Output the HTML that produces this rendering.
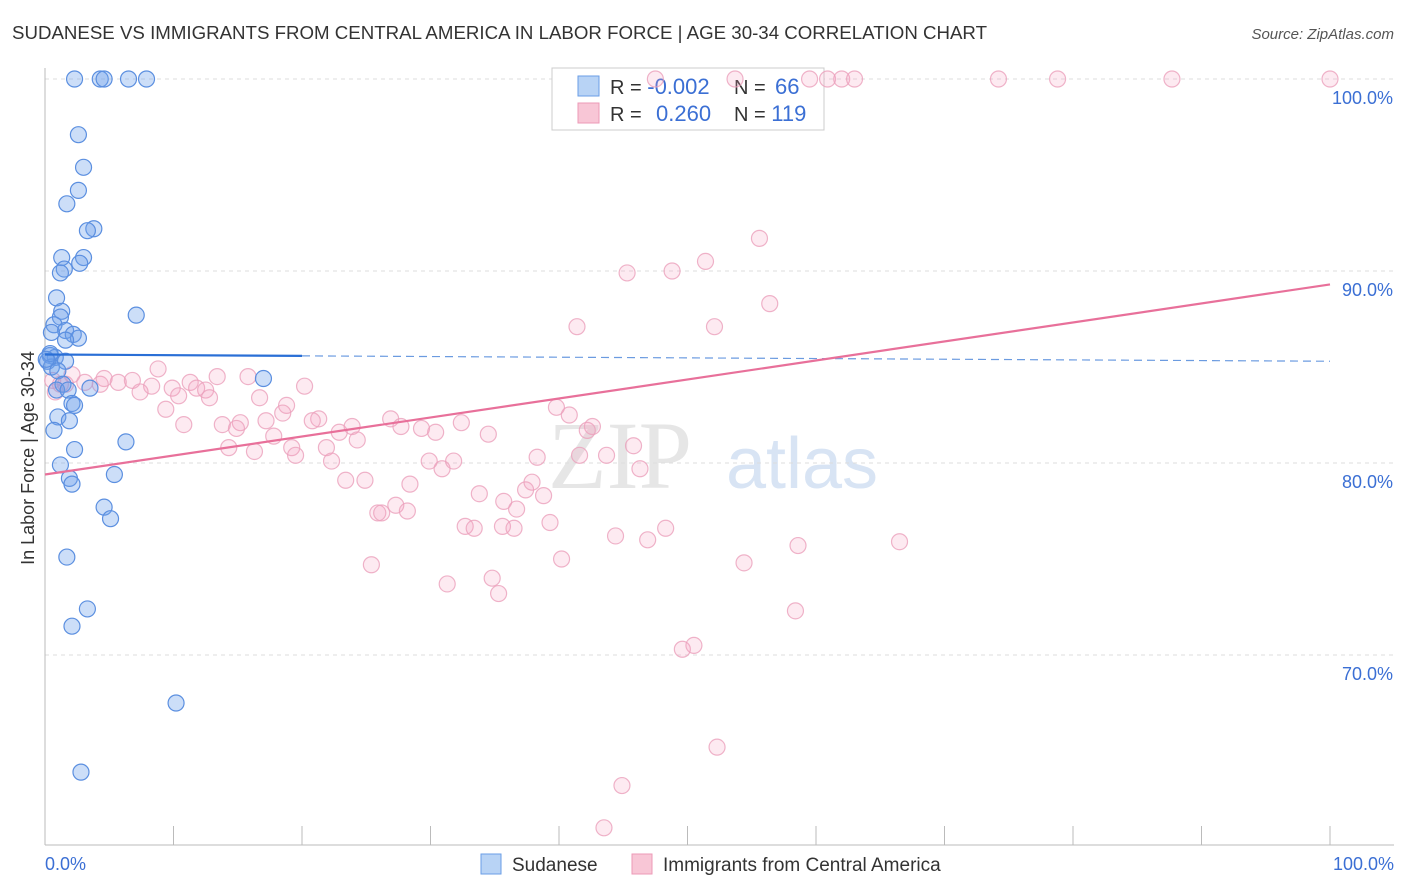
<!DOCTYPE html>
<html><head><meta charset="utf-8"><style>
body{margin:0;background:#fff;font-family:"Liberation Sans",sans-serif;}
svg{display:block}
</style></head><body>
<svg id="chart" width="1406" height="892" xmlns="http://www.w3.org/2000/svg">
<text x="12" y="39" font-size="18" fill="#333" textLength="975" lengthAdjust="spacingAndGlyphs">SUDANESE VS IMMIGRANTS FROM CENTRAL AMERICA IN LABOR FORCE | AGE 30-34 CORRELATION CHART</text>
<text x="1394" y="39" font-size="15" fill="#555" font-style="italic" text-anchor="end">Source: ZipAtlas.com</text>
<text x="34" y="458" font-size="18" fill="#333" text-anchor="middle" transform="rotate(-90 34 458)">In Labor Force | Age 30-34</text>
<text x="620" y="488" font-size="96" fill="#e6e6e6" font-family="Liberation Serif,serif" text-anchor="middle">ZIP</text>
<text x="802" y="488" font-size="72" fill="#d8e4f4" text-anchor="middle">atlas</text>
<g id="grid"></g>
<g>
<rect x="552" y="68" width="272" height="62" fill="#fff" stroke="#ccc"/>
<rect x="578" y="76" width="21" height="20" fill="#b8d3f5" stroke="#6a9ee6"/>
<rect x="578" y="103" width="21" height="20" fill="#f8c6d6" stroke="#ec9ab7"/>
<text x="610" y="94" font-size="20" fill="#333">R = <tspan fill="#3b6fd4" font-size="22">-0.002</tspan></text>
<text x="734" y="94" font-size="20" fill="#333">N = <tspan fill="#3b6fd4" font-size="22" x="775">66</tspan></text>
<text x="610" y="121" font-size="20" fill="#333">R = <tspan fill="#3b6fd4" x="656" font-size="22">0.260</tspan></text>
<text x="734" y="121" font-size="20" fill="#333">N = <tspan fill="#3b6fd4" font-size="22">119</tspan></text>
</g>
<g id="marks"></g><g id="lines"></g>
<g>
<rect x="481" y="854" width="20" height="20" fill="#b8d3f5" stroke="#6a9ee6"/>
<text x="512" y="871" font-size="19" fill="#333">Sudanese</text>
<rect x="632" y="854" width="20" height="20" fill="#f8c6d6" stroke="#ec9ab7"/>
<text x="663" y="871" font-size="19" fill="#333">Immigrants from Central America</text>
</g>
</svg>
<script>
const yTicks=[100,90,80,70];
const yTickLabels=["100.0%","90.0%","80.0%","70.0%"];
const xTicks=[0,10,20,30,40,50,60,70,80,90,100];
const xTickLabels=["0.0%","100.0%"];
const blueX=[2.3,4.3,4.6,6.5,7.9,2.6,3.0,2.6,1.7,3.8,3.3,1.3,3.0,2.7,1.5,1.2,0.9,1.3,1.2,7.1,0.7,1.6,0.5,2.2,2.6,1.6,0.4,0.8,0.2,1.6,0.5,1.0,17.0,1.4,3.5,0.9,1.8,2.1,2.3,1.0,1.9,0.7,6.3,2.3,1.2,5.4,1.9,2.1,4.6,5.1,1.7,3.3,2.1,10.2,2.8,0.4,0.1];
const blueY=[100,100,100,100,100,97.1,95.4,94.2,93.5,92.2,92.1,90.7,90.7,90.4,90.1,89.9,88.6,87.9,87.6,87.7,87.2,86.9,86.8,86.7,86.5,86.4,85.6,85.5,85.3,85.3,85.0,84.8,84.4,84.1,83.9,83.8,83.8,83.1,83.0,82.4,82.2,81.7,81.1,80.7,79.9,79.4,79.2,78.9,77.7,77.1,75.1,72.4,71.5,67.5,63.9,85.7,85.4];
const pinkX=[47.5,53.7,59.5,60.9,62.0,63.0,74.2,78.8,87.7,100,55.6,51.4,45.3,48.8,56.4,41.4,52.1,8.8,0.6,2.1,3.1,4.3,5.7,6.8,8.3,4.6,11.3,11.8,13.4,15.8,20.2,7.4,9.9,12.5,12.8,16.7,10.4,9.4,18.8,18.5,10.8,13.8,15.2,14.9,17.2,21.3,20.8,17.8,22.9,23.9,24.3,26.9,27.7,29.3,30.4,32.4,34.5,14.3,16.3,19.2,19.5,21.9,22.3,23.4,24.9,29.9,30.9,31.8,28.4,25.9,26.2,27.3,28.2,33.8,35.7,36.7,37.4,37.9,38.8,38.3,39.8,40.8,41.6,42.6,42.2,43.7,45.8,46.3,32.7,33.4,35.6,36.5,39.3,44.4,46.9,48.3,25.4,31.3,34.8,35.3,40.2,54.4,58.6,66.5,58.4,49.6,50.5,52.3,44.9,43.5,0.8,1.2,1.6];
const pinkY=[100,100,100,100,100,100,100,100,100,100,91.7,90.5,89.9,90.0,88.3,87.1,87.1,84.9,84.3,84.6,84.2,84.1,84.2,84.3,84.0,84.4,84.2,83.9,84.5,84.5,84.0,83.7,83.9,83.8,83.4,83.4,83.5,82.8,83.0,82.6,82.0,82.0,82.1,81.8,82.2,82.3,82.2,81.4,81.6,81.9,81.2,82.3,81.9,81.8,81.6,82.1,81.5,80.8,80.6,80.8,80.4,80.8,80.1,79.1,79.1,80.1,79.7,80.1,78.9,77.4,77.4,77.8,77.5,78.4,78.0,77.6,78.6,79.0,78.3,80.3,82.9,82.5,80.4,81.9,81.7,80.4,80.9,79.7,76.7,76.6,76.7,76.6,76.9,76.2,76.0,76.6,74.7,73.7,74.0,73.2,75.0,74.8,75.7,75.9,72.3,70.3,70.5,65.2,63.2,61.0,83.7,84.1,84.1];
const blueTrend=[85.65,85.3];
const pinkTrend=[79.4,89.3];
const NS="http://www.w3.org/2000/svg";
const X=v=>45+v*12.85;
const Y=v=>79+(100-v)*19.2;
function mk(tag,attrs,parent){const e=document.createElementNS(NS,tag);for(const k in attrs)e.setAttribute(k,attrs[k]);parent.appendChild(e);return e;}
const grid=document.getElementById('grid'),marks=document.getElementById('marks'),lines=document.getElementById('lines');
yTicks.forEach((t,i)=>{
 const l=mk('line',{x1:45,x2:1394,y1:Y(t),y2:Y(t),stroke:'#ddd','stroke-dasharray':'4,4'},grid);
 
 
 const tx=mk('text',{x:1393,y:Y(t)+25,'font-size':18,fill:'#3b6fd4','text-anchor':'end'},grid);
 tx.textContent=yTickLabels[i];
 
 
});
const ax=mk('line',{x1:45,x2:1394,y1:845,y2:845,stroke:'#bbb'},grid);


const ay=mk('line',{x1:45,x2:45,y1:68,y2:845,stroke:'#bbb'},grid);


xTicks.forEach(t=>{
 const l=mk('line',{x1:X(t),x2:X(t),y1:826,y2:845,stroke:'#bbb'},grid);
 
 
});
[[0,'start',45],[100,'end',1394]].forEach((a,i)=>{
 const tx=mk('text',{x:a[2],y:870,'font-size':18,fill:'#3b6fd4','text-anchor':a[1]},grid);
 tx.textContent=xTickLabels[i];
 
 
});
pinkX.forEach((v,i)=>{
 const c=mk('circle',{cx:X(v),cy:Y(pinkY[i]),r:8,fill:'rgba(244,160,190,0.22)',stroke:'#eba0bb','stroke-width':1.2,'stroke-opacity':0.8},marks);
 
 
});
blueX.forEach((v,i)=>{
 const c=mk('circle',{cx:X(v),cy:Y(blueY[i]),r:8,fill:'rgba(110,160,235,0.35)',stroke:'#5b8fe0','stroke-width':1.2},marks);
 
 
});
const bAt=p=>blueTrend[0]+(blueTrend[1]-blueTrend[0])*p/100;
const b1=mk('line',{x1:X(0),y1:Y(bAt(0)),x2:X(20),y2:Y(bAt(20)),stroke:'#2a6fd6','stroke-width':2.2},lines);


const b2=mk('line',{x1:X(20),y1:Y(bAt(20)),x2:X(100),y2:Y(bAt(100)),stroke:'#6b9be0','stroke-width':1.2,'stroke-dasharray':'8,5'},lines);


const p1=mk('line',{x1:X(0),y1:Y(pinkTrend[0]),x2:X(100),y2:Y(pinkTrend[1]),stroke:'#e8709a','stroke-width':2.2},lines);


</script>
</body></html>
